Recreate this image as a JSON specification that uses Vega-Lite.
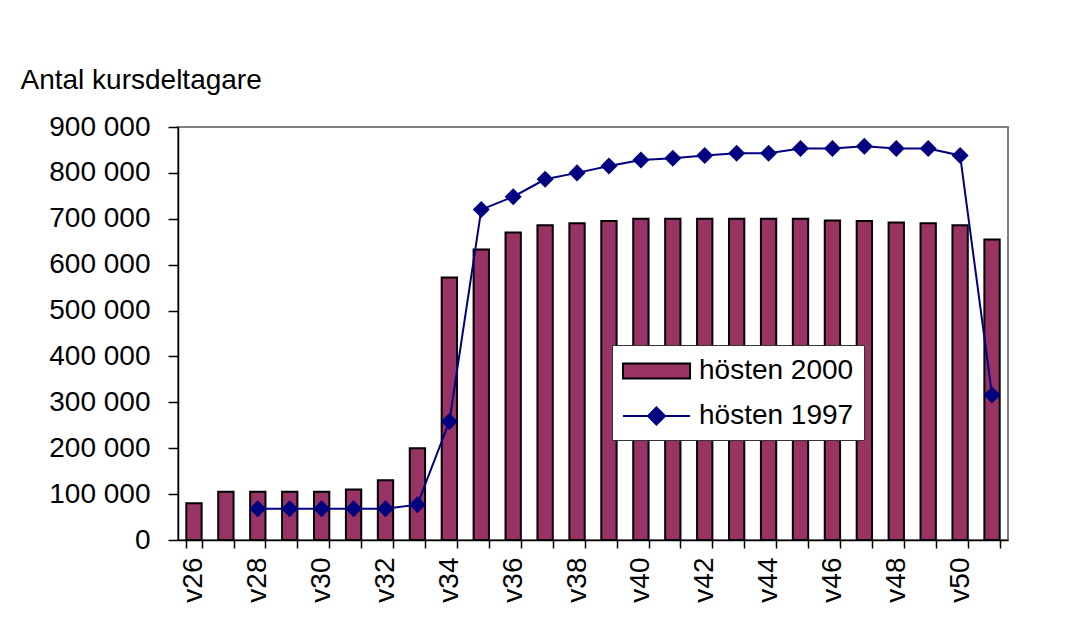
{
  "$schema": "https://vega.github.io/schema/vega-lite/v6.json",
  "autosize": "none",
  "width": 830,
  "height": 413,
  "padding": {"left": 178, "top": 127, "right": 73, "bottom": 85},
  "background": "white",
  "config": {
    "font": "Liberation Sans",
    "view": {"stroke": "#808080", "strokeWidth": 2},
    "axis": {"labelFont": "Liberation Sans", "labelColor": "black", "domainColor": "black", "tickColor": "black", "domainWidth": 1.5, "tickWidth": 1.5, "grid": false}
  },
  "data": {
    "values": [
      {"week": "v26", "y2000": 80000, "y1997": null},
      {"week": "v27", "y2000": 105000, "y1997": null},
      {"week": "v28", "y2000": 105000, "y1997": 68000},
      {"week": "v29", "y2000": 105000, "y1997": 68000},
      {"week": "v30", "y2000": 105000, "y1997": 68000},
      {"week": "v31", "y2000": 110000, "y1997": 68000},
      {"week": "v32", "y2000": 130000, "y1997": 68000},
      {"week": "v33", "y2000": 200000, "y1997": 77000},
      {"week": "v34", "y2000": 572000, "y1997": 258000},
      {"week": "v35", "y2000": 633000, "y1997": 720000},
      {"week": "v36", "y2000": 670000, "y1997": 748000},
      {"week": "v37", "y2000": 686000, "y1997": 786000},
      {"week": "v38", "y2000": 690000, "y1997": 800000},
      {"week": "v39", "y2000": 695000, "y1997": 815000},
      {"week": "v40", "y2000": 700000, "y1997": 828000},
      {"week": "v41", "y2000": 700000, "y1997": 832000},
      {"week": "v42", "y2000": 700000, "y1997": 838000},
      {"week": "v43", "y2000": 700000, "y1997": 843000},
      {"week": "v44", "y2000": 700000, "y1997": 843000},
      {"week": "v45", "y2000": 700000, "y1997": 853000},
      {"week": "v46", "y2000": 696000, "y1997": 853000},
      {"week": "v47", "y2000": 695000, "y1997": 858000},
      {"week": "v48", "y2000": 692000, "y1997": 853000},
      {"week": "v49", "y2000": 690000, "y1997": 853000},
      {"week": "v50", "y2000": 686000, "y1997": 838000},
      {"week": "v51", "y2000": 655000, "y1997": 316000}
    ]
  },
  "encoding": {
    "x": {
      "field": "week", "type": "nominal", "sort": null,
      "scale": {"paddingInner": 0.52, "paddingOuter": 0.26},
      "axis": {
        "title": null, "labelAngle": -90, "labelFontSize": 28, "tickBand": "extent",
        "tickSize": 8, "labelPadding": 9, "labelAlign": "right", "labelBaseline": "middle",
        "labelExpr": "indexof(['v26','v28','v30','v32','v34','v36','v38','v40','v42','v44','v46','v48','v50'], datum.value) >= 0 ? datum.value : ''"
      }
    }
  },
  "layer": [
    {
      "mark": {"type": "bar", "fill": "#993366", "stroke": "black", "strokeWidth": 2},
      "encoding": {
        "y": {
          "field": "y2000", "type": "quantitative",
          "scale": {"domain": [0, 900000], "nice": false},
          "axis": {
            "values": [0, 100000, 200000, 300000, 400000, 500000, 600000, 700000, 800000, 900000],
            "labelFontSize": 28, "tickSize": 10, "labelPadding": 18,
            "labelExpr": "replace(format(datum.value, ','), ',', ' ')",
            "title": "Antal kursdeltagare", "titleAngle": 0, "titleX": -158, "titleY": -39,
            "titleAlign": "left", "titleBaseline": "alphabetic", "titleFontSize": 28,
            "titleFontWeight": "normal", "titleFont": "Liberation Sans", "titleColor": "black"
          }
        }
      }
    },
    {
      "mark": {"type": "line", "color": "#000080", "strokeWidth": 2},
      "encoding": {"y": {"field": "y1997", "type": "quantitative"}}
    },
    {
      "mark": {"type": "point", "shape": "diamond", "filled": true, "color": "#000080", "size": 290, "opacity": 1},
      "encoding": {"y": {"field": "y1997", "type": "quantitative"}}
    },
    {
      "data": {"values": [{"series": "hösten 2000"}, {"series": "hösten 1997"}]},
      "transform": [{"filter": "false"}],
      "mark": {"type": "point", "filled": true, "opacity": 1, "fillOpacity": 1, "strokeOpacity": 1},
      "encoding": {
        "x": {"value": 0},
        "y": {"value": 0},
        "fill": {
          "field": "series", "type": "nominal",
          "scale": {"domain": ["hösten 2000", "hösten 1997"], "range": ["#993366", "#000080"]},
          "legend": {
            "orient": "none", "legendX": 434, "legendY": 218, "title": null,
            "labelFontSize": 28, "labelFont": "Liberation Sans", "labelColor": "black",
            "symbolSize": 900, "symbolStrokeWidth": 2, "symbolOpacity": 1,
            "labelOffset": 45, "rowPadding": 15, "padding": 10,
            "strokeColor": "#333333", "fillColor": "white", "labelLimit": 400
          }
        },
        "stroke": {
          "field": "series", "type": "nominal",
          "scale": {"domain": ["hösten 2000", "hösten 1997"], "range": ["black", "#000080"]}
        },
        "shape": {
          "field": "series", "type": "nominal",
          "scale": {"domain": ["hösten 2000", "hösten 1997"], "range": ["M-1,-0.5H3.47V0.5H-1Z", "M-1,0H0.67L1.23,-0.57L1.8,0H3.47M1.8,0L1.23,0.57L0.67,0"]}
        }
      }
    }
  ]
}
